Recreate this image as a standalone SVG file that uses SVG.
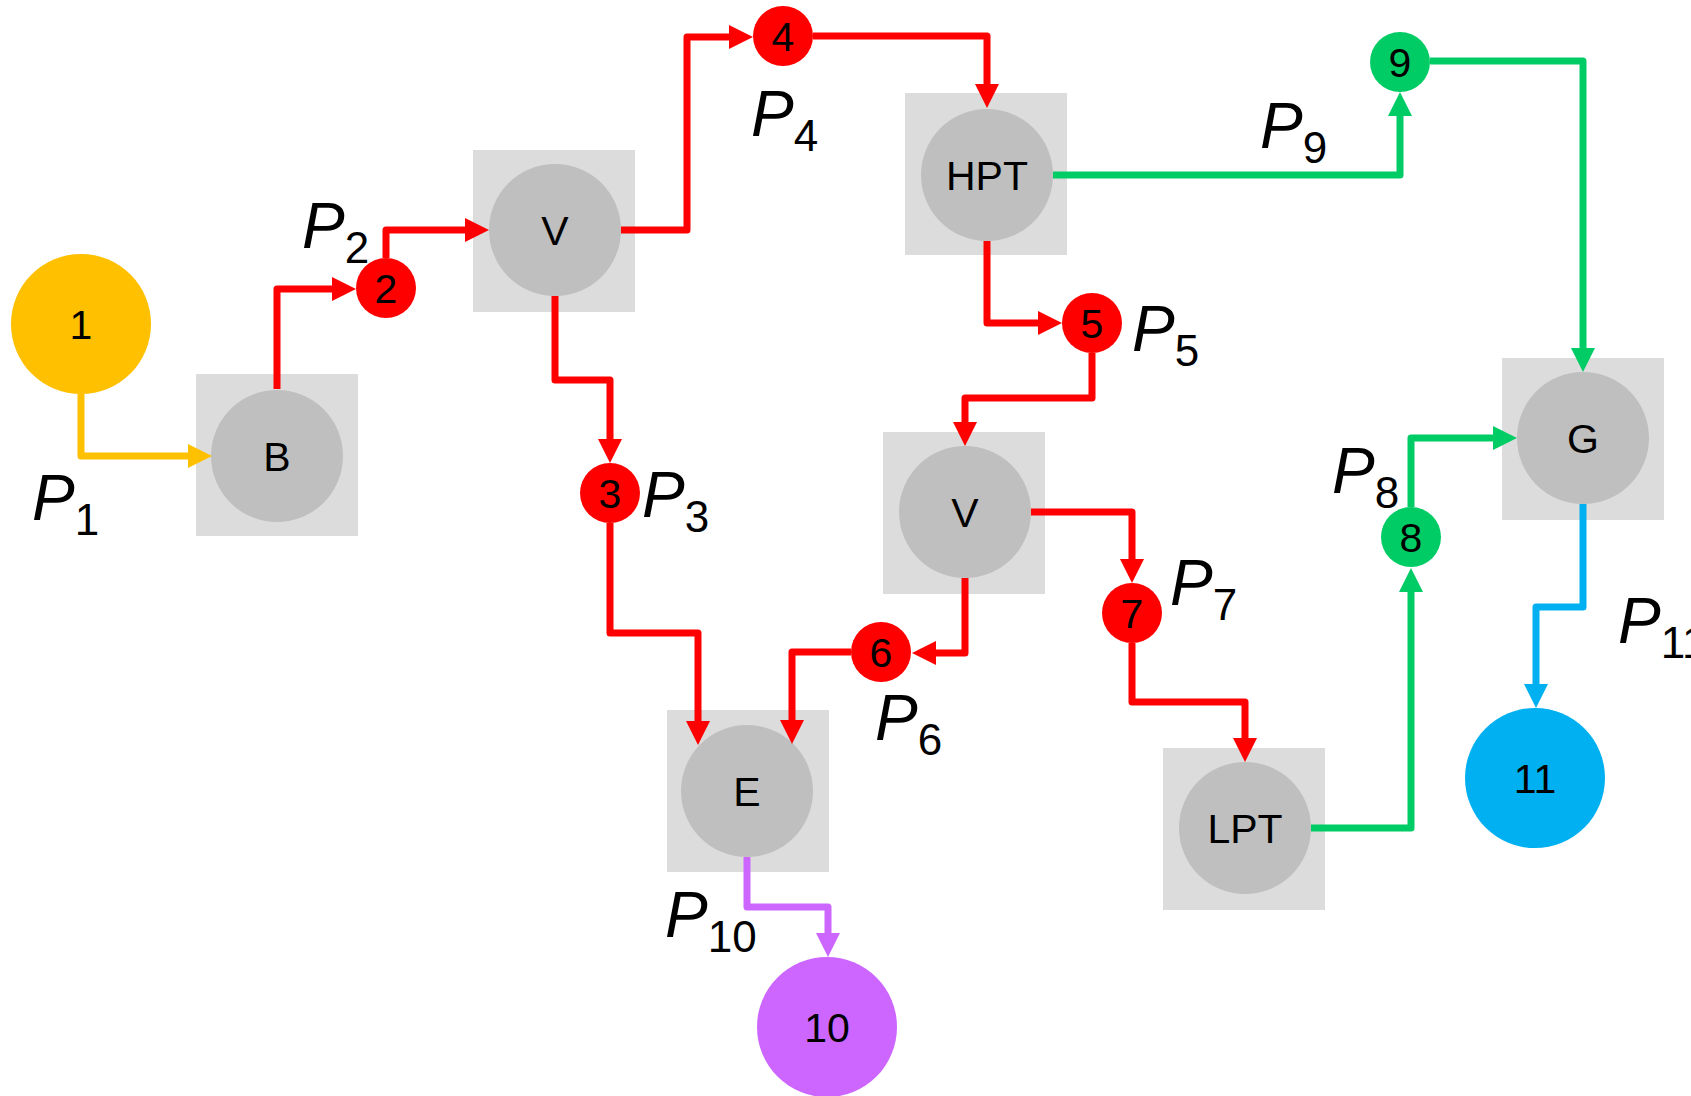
<svg xmlns="http://www.w3.org/2000/svg" width="1691" height="1096" viewBox="0 0 1691 1096">
<style>
.box{fill:#DCDCDC}
.unit{fill:#BFBFBF}
.t{font-family:"Liberation Sans",Arial,sans-serif;font-size:41px;fill:#000;text-anchor:middle}
.pl{font-family:"Liberation Sans",Arial,sans-serif;font-size:64px;fill:#000}
.pl .p{font-style:italic}
.pl .s{font-size:44px}
.c{fill:none;stroke-width:7;stroke-linejoin:round}
.red{stroke:#FF0000}
.yel{stroke:#FFC000}
.grn{stroke:#00CC66}
.blu{stroke:#00B0F0}
.pur{stroke:#CC66FF}
</style>
<defs>
<marker id="aR" markerUnits="userSpaceOnUse" markerWidth="24" markerHeight="24" viewBox="0 0 24 24" refX="14" refY="12" orient="auto"><path d="M0,0 L24,12 L0,24 z" fill="#FF0000"/></marker>
<marker id="aY" markerUnits="userSpaceOnUse" markerWidth="24" markerHeight="24" viewBox="0 0 24 24" refX="14" refY="12" orient="auto"><path d="M0,0 L24,12 L0,24 z" fill="#FFC000"/></marker>
<marker id="aG" markerUnits="userSpaceOnUse" markerWidth="24" markerHeight="24" viewBox="0 0 24 24" refX="14" refY="12" orient="auto"><path d="M0,0 L24,12 L0,24 z" fill="#00CC66"/></marker>
<marker id="aB" markerUnits="userSpaceOnUse" markerWidth="24" markerHeight="24" viewBox="0 0 24 24" refX="14" refY="12" orient="auto"><path d="M0,0 L24,12 L0,24 z" fill="#00B0F0"/></marker>
<marker id="aP" markerUnits="userSpaceOnUse" markerWidth="24" markerHeight="24" viewBox="0 0 24 24" refX="14" refY="12" orient="auto"><path d="M0,0 L24,12 L0,24 z" fill="#CC66FF"/></marker>
</defs>
<rect width="1691" height="1096" fill="#FFFFFF"/>

<g id="node-1"><circle cx="81" cy="324" r="70" fill="#FFC000"/><text class="t" x="81" y="339">1</text></g>
<g id="node-B"><rect class="box" x="196" y="374" width="162" height="162"/><circle class="unit" cx="277" cy="456" r="66"/><text class="t" x="277" y="471">B</text></g>
<g id="node-2"><circle cx="386" cy="288" r="30" fill="#FF0000"/><text class="t" x="386" y="303">2</text></g>
<g id="node-V1"><rect class="box" x="473" y="150" width="162" height="162"/><circle class="unit" cx="555" cy="230" r="66"/><text class="t" x="555" y="245">V</text></g>
<g id="node-4"><circle cx="783" cy="36" r="30" fill="#FF0000"/><text class="t" x="783" y="51">4</text></g>
<g id="node-HPT"><rect class="box" x="905" y="93" width="162" height="162"/><circle class="unit" cx="987" cy="175" r="66"/><text class="t" x="987" y="190">HPT</text></g>
<g id="node-9"><circle cx="1400" cy="62" r="30" fill="#00CC66"/><text class="t" x="1400" y="77">9</text></g>
<g id="node-3"><circle cx="610" cy="493" r="30" fill="#FF0000"/><text class="t" x="610" y="508">3</text></g>
<g id="node-5"><circle cx="1092" cy="323" r="30" fill="#FF0000"/><text class="t" x="1092" y="338">5</text></g>
<g id="node-V2"><rect class="box" x="883" y="432" width="162" height="162"/><circle class="unit" cx="965" cy="512" r="66"/><text class="t" x="965" y="527">V</text></g>
<g id="node-6"><circle cx="881" cy="652" r="30" fill="#FF0000"/><text class="t" x="881" y="667">6</text></g>
<g id="node-7"><circle cx="1132" cy="613" r="30" fill="#FF0000"/><text class="t" x="1132" y="628">7</text></g>
<g id="node-E"><rect class="box" x="667" y="710" width="162" height="162"/><circle class="unit" cx="747" cy="791" r="66"/><text class="t" x="747" y="806">E</text></g>
<g id="node-10"><circle cx="827" cy="1027" r="70" fill="#CC66FF"/><text class="t" x="827" y="1042">10</text></g>
<g id="node-LPT"><rect class="box" x="1163" y="748" width="162" height="162"/><circle class="unit" cx="1245" cy="828" r="66"/><text class="t" x="1245" y="843">LPT</text></g>
<g id="node-8"><circle cx="1411" cy="537" r="30" fill="#00CC66"/><text class="t" x="1411" y="552">8</text></g>
<g id="node-G"><rect class="box" x="1502" y="358" width="162" height="162"/><circle class="unit" cx="1583" cy="438" r="66"/><text class="t" x="1583" y="453">G</text></g>
<g id="node-11"><circle cx="1535" cy="778" r="70" fill="#00B0F0"/><text class="t" x="1535" y="793">11</text></g>

<g id="connectors">
<path class="c yel" d="M81,394 V456 H202" marker-end="url(#aY)"/>
<path class="c red" d="M277,389 V289 H346" marker-end="url(#aR)"/>
<path class="c red" d="M386,258 V230 H479" marker-end="url(#aR)"/>
<path class="c red" d="M621,230 H687 V37 H743" marker-end="url(#aR)"/>
<path class="c red" d="M813,36 H987 V98" marker-end="url(#aR)"/>
<path class="c grn" d="M1053,175 H1400 V102" marker-end="url(#aG)"/>
<path class="c grn" d="M1430,61 H1583 V362" marker-end="url(#aG)"/>
<path class="c red" d="M987,241 V323 H1052" marker-end="url(#aR)"/>
<path class="c red" d="M555,296 V380 H610 V453" marker-end="url(#aR)"/>
<path class="c red" d="M1092,353 V398 H965 V436" marker-end="url(#aR)"/>
<path class="c red" d="M1031,512 H1132 V573" marker-end="url(#aR)"/>
<path class="c red" d="M965,578 V653 H922" marker-end="url(#aR)"/>
<path class="c red" d="M851,652 H792 V734" marker-end="url(#aR)"/>
<path class="c red" d="M610,523 V633 H698 V735" marker-end="url(#aR)"/>
<path class="c red" d="M1132,643 V702 H1245 V752" marker-end="url(#aR)"/>
<path class="c grn" d="M1311,828 H1411 V578" marker-end="url(#aG)"/>
<path class="c grn" d="M1411,507 V438 H1507" marker-end="url(#aG)"/>
<path class="c blu" d="M1583,504 V607 H1536 V698" marker-end="url(#aB)"/>
<path class="c pur" d="M747,857 V907 H828 V947" marker-end="url(#aP)"/>
</g>

<g id="labels">
<text class="pl" x="32" y="520"><tspan class="p">P</tspan><tspan class="s" dy="15">1</tspan></text>
<text class="pl" x="302" y="248"><tspan class="p">P</tspan><tspan class="s" dy="15">2</tspan></text>
<text class="pl" x="642" y="517"><tspan class="p">P</tspan><tspan class="s" dy="15">3</tspan></text>
<text class="pl" x="751" y="136"><tspan class="p">P</tspan><tspan class="s" dy="15">4</tspan></text>
<text class="pl" x="1132" y="351"><tspan class="p">P</tspan><tspan class="s" dy="15">5</tspan></text>
<text class="pl" x="875" y="740"><tspan class="p">P</tspan><tspan class="s" dy="15">6</tspan></text>
<text class="pl" x="1170" y="605"><tspan class="p">P</tspan><tspan class="s" dy="15">7</tspan></text>
<text class="pl" x="1332" y="493"><tspan class="p">P</tspan><tspan class="s" dy="15">8</tspan></text>
<text class="pl" x="1260" y="148"><tspan class="p">P</tspan><tspan class="s" dy="15">9</tspan></text>
<text class="pl" x="665" y="937"><tspan class="p">P</tspan><tspan class="s" dy="15">10</tspan></text>
<text class="pl" x="1618" y="643"><tspan class="p">P</tspan><tspan class="s" dy="15">11</tspan></text>
</g>
</svg>
